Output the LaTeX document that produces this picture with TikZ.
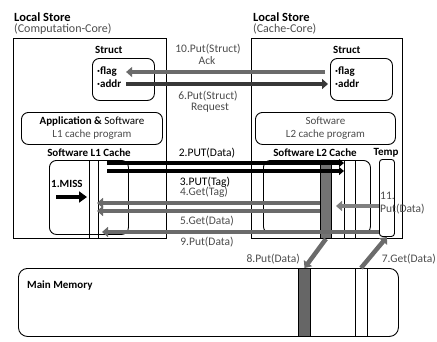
\documentclass[tikz,border=0pt]{standalone}
\usepackage{fontspec}
\setmainfont{Carlito}
\usetikzlibrary{arrows.meta,positioning,calc}

\begin{document}
\begin{tikzpicture}[x=1pt,y=-1pt,
    box/.style={draw,line width=0.9pt,inner sep=0pt,anchor=north west},
    rbox/.style={box,rounded corners=7pt},
    hd/.style={font=\bfseries\fontsize{11}{13}\selectfont,inner sep=0pt},
    lb/.style={font=\fontsize{11.5}{13}\selectfont,text=black!70,inner sep=0pt},
    pt/.style={font=\fontsize{11.5}{13}\selectfont,inner sep=0pt},
    harr/.style={line width=4.5pt,draw=black!58,-{Triangle[length=6pt,width=10pt]}},
    barr/.style={line width=3.8pt,-{Triangle[length=5pt,width=8pt]}}]
  \useasboundingbox (0,0) rectangle (437,341);

  \node[hd,anchor=west,font=\bfseries\fontsize{12.5}{14}\selectfont] (ttlL) at (14,17) {Local Store};
  \node[lb,anchor=west,font=\fontsize{12}{14}\selectfont] (subL) at (14,29) {(Computation-Core)};
  \node[hd,anchor=west,font=\bfseries\fontsize{12.5}{14}\selectfont] (ttlR) at (253,17) {Local Store};
  \node[lb,anchor=west,font=\fontsize{12}{14}\selectfont] (subR) at (253,29) {(Cache-Core)};

  \node[box,minimum width=153pt,minimum height=200pt] (lsL) at (13,38) {};
  \node[box,minimum width=151pt,minimum height=200pt] (lsR) at (251,38) {};

  \node[rbox,minimum width=62pt,minimum height=42pt] (stL) at (92,58) {};
  \node[hd,anchor=west] (stLt) at (95,50) {Struct};
  \node[pt,anchor=west,font=\bfseries\fontsize{11}{13}\selectfont] (flagL) at (97,72) {·flag};
  \node[pt,anchor=west,font=\bfseries\fontsize{11}{13}\selectfont] (addrL) at (97,84) {·addr};
  \node[rbox,minimum width=62pt,minimum height=42pt] (stR) at (330,58) {};
  \node[hd,anchor=west] (stRt) at (333,50) {Struct};
  \node[pt,anchor=west,font=\bfseries\fontsize{11}{13}\selectfont] (flagR) at (335,72) {·flag};
  \node[pt,anchor=west,font=\bfseries\fontsize{11}{13}\selectfont] (addrR) at (335,84) {·addr};

  \draw[harr,shorten <=5pt] (stR.west |- flagL) -- ([xshift=9pt]flagL.east);
  \draw[harr,draw=black!78,shorten >=2pt] ([xshift=5pt]addrL.east) -- (stR.west |- addrL);
  \node[lb] (m10) at (208,49) {10.Put(Struct)};
  \node[lb] (m10b) at (207,61) {Ack};
  \node[lb] (m6) at (208,96) {6.Put(Struct)};
  \node[lb] (m6b) at (210,108) {Request};

  \node[rbox,minimum width=141pt,minimum height=32pt,align=center,pt,
        font=\fontsize{11}{13}\selectfont] (appL) at (21,112)
        {\textbf{Application \&} Software\\\textcolor{black!70}{L1 cache program}};
  \node[rbox,minimum width=140pt,minimum height=32pt,align=center,lb,
        font=\fontsize{11}{13}\selectfont] (appR) at (255,112)
        {Software\\L2 cache program};

  \node[hd] (l1t) at (89,153) {Software L1 Cache};
  \node[hd] (l2t) at (315,153) {Software L2 Cache};
  \node[hd] (tmpt) at (386,153) {Temp};

  \node[rbox,minimum width=79pt,minimum height=74pt] (l1) at (49,160) {};
  \draw[line width=0.9pt] (89,160) -- (89,238);
  \draw[line width=0.9pt] (98,160) -- (98,238);
  \node[rbox,minimum width=107pt,minimum height=73pt] (l2) at (263,160) {};
  \draw[line width=0.9pt] (344,160) -- (344,238);
  \draw[line width=0.9pt] (355,160) -- (355,238);
  \node[box,fill=black!55,minimum width=11pt,minimum height=78pt] (colL2) at (320,160) {};
  \node[rbox,rounded corners=3pt,minimum width=15pt,minimum height=77pt] (tmp) at (379,159) {};

  \node[hd,anchor=west] (miss) at (51,184) {1.MISS};
  \coordinate (missS) at (56,197);
  \coordinate (missE) at (87,197);
  \draw[line width=4pt,-{Triangle[length=8pt,width=11pt]}] (missS) -- (missE);

  \coordinate (p2s) at (107,163);
  \coordinate (p2e) at (344,163);
  \coordinate (p3s) at (107,171);
  \coordinate (p3e) at (344,171);
  \draw[barr] (p2s) -- (p2e);
  \draw[barr] (p3s) -- (p3e);
  \node[pt] (m2) at (207,153) {2.PUT(Data)};
  \node[pt] (m3) at (205,182) {3.PUT(Tag)};

  \coordinate (g4e) at (97,203);
  \coordinate (g5e) at (97,211);
  \draw[harr] (colL2.west |- 0,203) -- (g4e);
  \draw[harr] (colL2.west |- 0,211) -- (g5e);
  \node[lb] (m4) at (204,192) {4.Get(Tag)};
  \node[lb] (m5) at (207,221) {5.Get(Data)};

  \coordinate (p9e) at (102,232);
  \draw[harr] (tmp.west |- 0,232) -- (p9e);
  \node[lb] (m9) at (207,242) {9.Put(Data)};

  \coordinate (p11e) at (336,206);
  \draw[harr,draw=black!50] (tmp.west |- 0,206) -- (p11e);
  \node[lb,align=left,anchor=north west] (m11) at (380,192) {11.\\Put(Data)};

  \node[rbox,rounded corners=9pt,minimum width=380pt,minimum height=68pt] (mm) at (18,268) {};
  \node[hd,anchor=west] (mmt) at (27,286) {Main Memory};
  \node[box,fill=black!60,minimum width=12pt,minimum height=68pt] (mcol) at (298,268) {};
  \draw[line width=0.9pt] (355,268) -- (355,336);
  \draw[line width=0.9pt] (367,268) -- (367,336);

  \draw[harr] (colL2.south) -- (mcol.north);
  \node[lb,anchor=east] (m8) at (300,259) {8.Put(Data)};
  \coordinate (g7s) at (361,268);
  \draw[harr] (g7s) -- (tmp.south);
  \node[lb,anchor=east] (m7) at (436,259) {7.Get(Data)};
\end{tikzpicture}
\end{document}
